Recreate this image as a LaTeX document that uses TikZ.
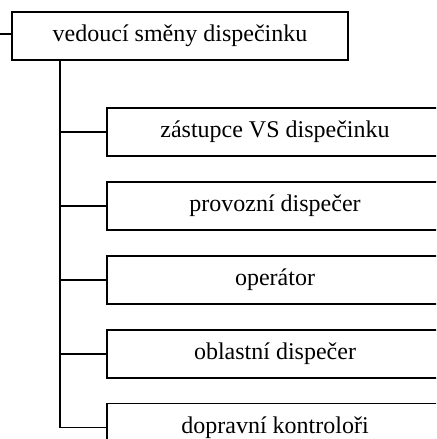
\documentclass[tikz,border=0pt]{standalone}
\usepackage{fontspec}
\setmainfont{Liberation Serif}
\usetikzlibrary{positioning}

\begin{document}
\begin{tikzpicture}[x=0.75pt, y=-0.75pt, line width=1.4pt, node distance=18pt,
      every node/.append style={font=\fontsize{18}{22}\selectfont},
      rolebox/.style={draw=black, rectangle, minimum width=252pt, minimum height=36pt, inner sep=0pt}]
    \clip (0,0) rectangle (436,439);
    \node (head) [rolebox] at (180,36) {vedoucí směny dispečinku};
    \node (deputy) [rolebox] at (275,132) {zástupce VS dispečinku};
    \node (operations) [rolebox, below=of deputy] {provozní dispečer};
    \node (operator) [rolebox, below=of operations] {operátor};
    \node (regional) [rolebox, below=of operator] {oblastní dispečer};
    \node (controllers) [rolebox, below=of regional] {dopravní kontroloři};
    % line coming in from the left and the trunk under the head box
    \coordinate (stub) at (0,34);
    \coordinate (trunk) at (60,60);
    \draw (stub) -- (head.west |- stub);
    \draw (head.south -| trunk) |- (controllers.west);
    \foreach \n in {deputy, operations, operator, regional}
      \draw (trunk |- \n.west) -- (\n.west);
\end{tikzpicture}
\end{document}
